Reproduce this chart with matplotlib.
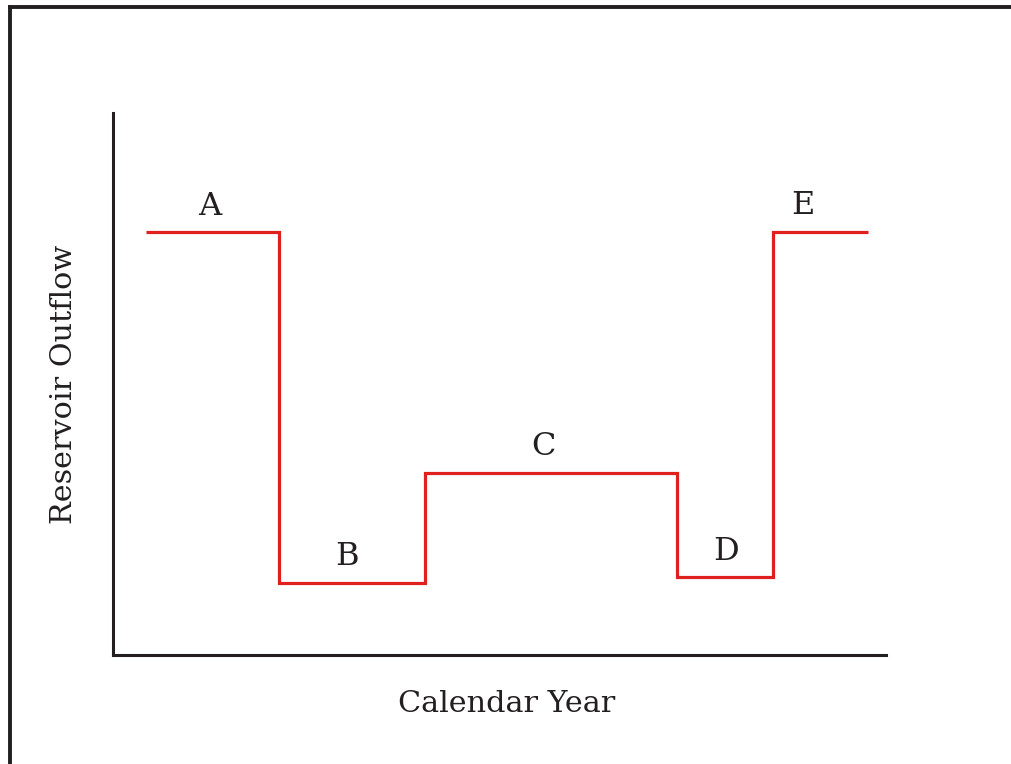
import matplotlib
matplotlib.use("Agg")
import matplotlib.pyplot as plt
from matplotlib.lines import Line2D

# Data (arbitrary units)
edges = [4.3, 21.5, 40.4, 73.0, 85.4, 97.7]      # period boundaries (calendar year axis)
levels = [78.0, 13.3, 33.6, 14.4, 78.1]           # reservoir outflow per period
labels = ["A", "B", "C", "D", "E"]
label_x = [12.5, 30.3, 55.7, 79.3, 89.3]
x_title = "Calendar Year"
y_title = "Reservoir Outflow"

plt.rcParams['font.family'] = ['DejaVu Serif']

fig = plt.figure(figsize=(10.11, 7.64), dpi=100)
ax = fig.add_axes([0.1118, 0.1427, 0.7646, 0.7094])
ax.set_xlim(0, 100)
ax.set_ylim(0, 100)

ax.stairs(levels, edges, color="#e0201f", linewidth=2.3, baseline=None)

for lab, lx, lv in zip(labels, label_x, levels):
    ax.annotate(lab, (lx, lv), xytext=(0, 7.5), textcoords="offset points",
                ha="center", va="bottom", fontsize=23, color="#231f20")

for s in ["top", "right"]:
    ax.spines[s].set_visible(False)
for s in ["left", "bottom"]:
    ax.spines[s].set_linewidth(2.2)
    ax.spines[s].set_color("#231f20")
ax.set_xticks([])
ax.set_yticks([])

ax.set_xlabel(x_title, fontsize=21.8, color="#231f20", labelpad=25)
ax.set_ylabel(y_title, fontsize=21.8, color="#231f20", labelpad=25)
ax.xaxis.label.set_x(0.509)

# outer frame (top and left only)
fig.add_artist(Line2D([9.5/1011, 1.0], [1 - 6.5/764, 1 - 6.5/764],
                      transform=fig.transFigure, color="#231f20", linewidth=2.8))
fig.add_artist(Line2D([9.5/1011, 9.5/1011], [0.0, 1 - 6.5/764],
                      transform=fig.transFigure, color="#231f20", linewidth=2.8))

fig.savefig("out.png", dpi=100, facecolor="white")
